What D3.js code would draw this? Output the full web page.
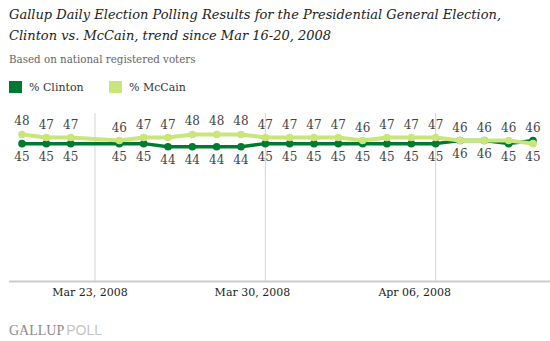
<!DOCTYPE html>
<html>
<head>
<meta charset="utf-8">
<script src="https://cdn.jsdelivr.net/npm/d3@7"></script>
<style>
  body { margin: 0; background: #fff; }
  svg { display: block; }
</style>
</head>
<body>
<div class="figure"></div>
<script>
// daily tracking, Mar 20 - Apr 10 2008 (no release on Mar 23)
const dates = ["2008-03-20", "2008-03-21", "2008-03-22", "2008-03-24", "2008-03-25", "2008-03-26",
  "2008-03-27", "2008-03-28", "2008-03-29", "2008-03-30", "2008-03-31", "2008-04-01", "2008-04-02",
  "2008-04-03", "2008-04-04", "2008-04-05", "2008-04-06", "2008-04-07", "2008-04-08", "2008-04-09",
  "2008-04-10"]
const clinton = [45, 45, 45, 45, 45, 44, 44, 44, 44, 45, 45, 45, 45, 45, 45, 45, 45, 46, 46, 45, 46]
const mccain = [48, 47, 47, 46, 47, 47, 48, 48, 48, 47, 47, 47, 47, 46, 47, 47, 47, 46, 46, 46, 45]
const tickDates = ["2008-03-23", "2008-03-30", "2008-04-06"]

const width = 550
const height = 341
const parse = d3.timeParse("%Y-%m-%d")
const fmt = d3.timeFormat("%b %d, %Y")

const darkGreen = "#007a33"
const lightGreen = "#c8e67a"

const rows = dates.map((d, i) => ({date: parse(d), clinton: clinton[i], mccain: mccain[i]}))

const x = d3.scaleTime()
    .domain([parse("2008-03-20"), parse("2008-04-10")])
    .range([22, 533])
// the date labels sit on a slightly narrower track than the points
const xLabel = x.copy().range([20, 507])
const y = d3.scaleLinear().domain([0, 55]).range([281.5, 113])

const svg = d3.select(".figure").append("svg")
    .attr("width", width)
    .attr("height", height)
    .style("font-family", "'DejaVu Serif', Georgia, serif")

// title + subtitle
const title = svg.append("text")
    .attr("font-style", "italic")
    .attr("font-size", 13)
    .attr("fill", "#222")
title.append("tspan").attr("x", 9).attr("y", 19)
    .text("Gallup Daily Election Polling Results for the Presidential General Election,")
title.append("tspan").attr("x", 9).attr("y", 40)
    .text("Clinton vs. McCain, trend since Mar 16-20, 2008")

svg.append("text")
    .attr("x", 9).attr("y", 63)
    .attr("font-size", 10.3)
    .attr("fill", "#666")
    .text("Based on national registered voters")

// legend
const legend = svg.append("g")
    .selectAll("g")
    .data([{name: "% Clinton", color: darkGreen, x: 9}, {name: "% McCain", color: lightGreen, x: 109}])
    .join("g")
    .attr("transform", d => `translate(${d.x},81)`)
legend.append("rect")
    .attr("width", 13).attr("height", 12)
    .attr("fill", d => d.color)
legend.append("text")
    .attr("x", 20).attr("y", 10)
    .attr("font-size", 11)
    .attr("fill", "#333")
    .text(d => d.name)

// vertical gridlines at the week marks
svg.append("g")
    .selectAll("line")
    .data(tickDates.map(parse))
    .join("line")
    .attr("x1", d => x(d)).attr("x2", d => x(d))
    .attr("y1", y(55)).attr("y2", y(0))
    .attr("stroke", "#d4d4d4")
    .attr("stroke-width", 1)

// baseline
svg.append("line")
    .attr("x1", 9).attr("x2", width)
    .attr("y1", y(0)).attr("y2", y(0))
    .attr("stroke", "#cccccc")
    .attr("stroke-width", 2)

// date labels
const xAxis = d3.axisBottom(xLabel)
    .tickValues(tickDates.map(parse))
    .tickFormat(fmt)
    .tickSize(0)
    .tickPadding(0)
svg.append("g")
    .attr("transform", `translate(0,${y(0) + 7})`)
    .call(xAxis)
    .call(g => g.select(".domain").remove())
    .call(g => g.selectAll("text")
        .attr("font-family", "'DejaVu Serif', Georgia, serif")
        .attr("font-size", 11)
        .attr("fill", "#222"))

// series lines
const series = [
  {key: "clinton", color: darkGreen, width: 3.5},
  {key: "mccain", color: lightGreen, width: 4}
]

series.forEach(s => {
  const line = d3.line()
      .x(d => x(d.date))
      .y(d => y(d[s.key]))
  svg.append("path")
      .datum(rows)
      .attr("fill", "none")
      .attr("stroke", s.color)
      .attr("stroke-width", s.width)
      .attr("stroke-linejoin", "round")
      .attr("d", line)
  svg.append("g")
      .selectAll("circle")
      .data(rows)
      .join("circle")
      .attr("cx", d => x(d.date))
      .attr("cy", d => y(d[s.key]))
      .attr("r", 3.8)
      .attr("fill", s.color)
})

// value labels: the leading candidate (McCain on ties) goes above
const labels = svg.append("g")
    .attr("font-size", 12)
    .attr("fill", "#444")
    .attr("text-anchor", "middle")
rows.forEach(d => {
  const clintonUp = d.clinton > d.mccain
  const top = clintonUp ? d.clinton : d.mccain
  const bottom = clintonUp ? d.mccain : d.clinton
  labels.append("text")
      .attr("x", x(d.date))
      .attr("y", y(top) - 9)
      .text(top)
  labels.append("text")
      .attr("x", x(d.date))
      .attr("y", y(bottom) + 17)
      .text(bottom)
})

// logo
const logo = svg.append("text")
    .attr("x", 9).attr("y", 335)
    .attr("font-size", 14)
logo.append("tspan")
    .attr("font-family", "'Liberation Serif', serif")
    .attr("fill", "#8a8a8a")
    .text("GALLUP")
logo.append("tspan")
    .attr("font-family", "'Liberation Sans', Arial, sans-serif")
    .attr("fill", "#c4c4c4")
    .attr("dx", 2)
    .text("POLL")
</script>
</body>
</html>
